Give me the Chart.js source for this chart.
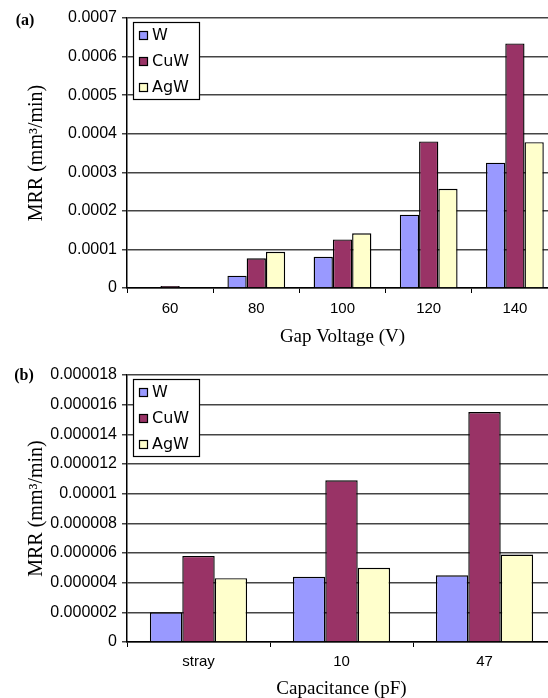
<!DOCTYPE html>
<html lang="en">
<head>
<meta charset="UTF-8" />
<title>MRR charts</title>
<script src="https://cdn.jsdelivr.net/npm/chart.js"></script>
<style>
  html, body { margin: 0; padding: 0; background: #fff; overflow: hidden; }
  canvas { display: block; }
</style>
</head>
<body>
<canvas id="chartA" width="560" height="352"></canvas>
<canvas id="chartB" width="560" height="348"></canvas>
<script>
  const series = ["W", "CuW", "AgW"];
  const colors = ["#9999ff", "#993366", "#ffffcc"];

  // (a) gap voltage
  const voltages = ["60", "80", "100", "120", "140"];
  const wVoltage = [0.000002, 0.000032, 0.000081, 0.00019, 0.000325];
  const cuwVoltage = [0.000005, 0.000077, 0.000126, 0.00038, 0.000634];
  const agwVoltage = [0.000002, 0.000094, 0.000142, 0.000257, 0.000378];
  const yTicksA = [0, 0.0001, 0.0002, 0.0003, 0.0004, 0.0005, 0.0006, 0.0007];
  const yLabelsA = ["0", "0.0001", "0.0002", "0.0003", "0.0004", "0.0005", "0.0006", "0.0007"];

  // (b) capacitance
  const capacitances = ["stray", "10", "47"];
  const wCap = [0.000002, 0.0000044, 0.0000045];
  const cuwCap = [0.0000058, 0.0000109, 0.0000155];
  const agwCap = [0.0000043, 0.000005, 0.0000059];
  const yTicksB = [0, 0.000002, 0.000004, 0.000006, 0.000008, 0.00001, 0.000012, 0.000014, 0.000016, 0.000018];
  const yLabelsB = ["0", "0.000002", "0.000004", "0.000006", "0.000008", "0.00001", "0.000012", "0.000014", "0.000016", "0.000018"];

  const sans = '"Liberation Sans", Arial, sans-serif';
  const serif = '"Liberation Serif", "Times New Roman", serif';

  // legend box drawn inside the plot, top left
  const boxLegend = {
    id: "boxLegend",
    afterDraw(chart) {
      const ctx = chart.ctx;
      const a = chart.chartArea;
      const x = a.left + 6, y = a.top + 4, w = 66, h = 77;
      ctx.save();
      ctx.fillStyle = "#fff";
      ctx.fillRect(x, y, w, h);
      ctx.strokeStyle = "#000";
      ctx.lineWidth = 1.2;
      ctx.strokeRect(x + 0.5, y + 0.5, w, h);
      ctx.font = '16px "DejaVu Sans"';
      ctx.textBaseline = "middle";
      chart.data.datasets.forEach((ds, i) => {
        const cy = Math.round(y + 13 + i * 26);
        ctx.fillStyle = ds.backgroundColor;
        ctx.fillRect(x + 6, cy - 4, 8, 8);
        ctx.strokeRect(x + 6.5, cy - 3.5, 8, 8);
        ctx.fillStyle = "#000";
        ctx.fillText(ds.label, x + 19, cy + 1);
      });
      ctx.restore();
    },
  };

  const panelLabel = {
    id: "panelLabel",
    afterDraw(chart, args, opts) {
      const ctx = chart.ctx;
      ctx.save();
      ctx.font = "bold 16px " + serif;
      ctx.fillStyle = "#000";
      ctx.textAlign = "center";
      ctx.textBaseline = "middle";
      ctx.fillText(opts.text, opts.x, opts.y);
      ctx.restore();
    },
  };

  function makeChart(id, labels, values, ticks, tickLabels, xTitle, o) {
    return new Chart(document.getElementById(id), {
      type: "bar",
      data: {
        labels: labels,
        datasets: series.map((s, i) => ({
          label: s,
          data: values[i],
          backgroundColor: colors[i],
          borderColor: "#000",
          borderWidth: 1.4,
        })),
      },
      options: {
        responsive: false,
        animation: false,
        layout: { padding: { top: o.top, right: o.right, left: 0, bottom: 0 } },
        datasets: { bar: { categoryPercentage: o.cat, barPercentage: 1 } },
        plugins: {
          legend: { display: false },
          tooltip: { enabled: false },
          panelLabel: { text: o.panel, x: o.px, y: o.py },
        },
        scales: {
          x: {
            grid: { drawOnChartArea: false, drawTicks: true, tickLength: 5, color: "#000", lineWidth: 1 },
            border: { color: "#000", width: 1.5 },
            ticks: { color: "#000", font: { family: sans, size: 15 }, padding: o.xpad, maxRotation: 0 },
            title: {
              display: true,
              text: xTitle,
              color: "#000",
              font: { family: serif, size: 19 },
              padding: { top: 0, bottom: o.tpad },
            },
            afterFit: (s) => { s.height = o.xh; },
          },
          y: {
            min: 0,
            max: ticks[ticks.length - 1],
            afterBuildTicks: (s) => { s.ticks = ticks.map((v) => ({ value: v })); },
            ticks: {
              color: "#000",
              font: { family: sans, size: 16 },
              padding: 5,
              autoSkip: false,
              callback: (v, i) => tickLabels[i],
            },
            grid: { color: "#444", lineWidth: 1.5, tickLength: 5 },
            border: { color: "#000", width: 1.5 },
            title: {
              display: true,
              text: "MRR (mm³/min)",
              color: "#000",
              font: { family: serif, size: 20 },
              padding: { top: 25, bottom: 0 },
            },
            afterFit: (s) => { s.width = 127; },
          },
        },
      },
      plugins: [boxLegend, panelLabel],
    });
  }

  makeChart("chartA", voltages, [wVoltage, cuwVoltage, agwVoltage], yTicksA, yLabelsA, "Gap Voltage (V)",
    { top: 18, right: 2, cat: 0.67, xpad: 7, tpad: 4, xh: 64, panel: "(a)", px: 25, py: 21 });

  makeChart("chartB", capacitances, [wCap, cuwCap, agwCap], yTicksB, yLabelsB, "Capacitance (pF)",
    { top: 23, right: 4, cat: 0.68, xpad: 6, tpad: 0, xh: 58, panel: "(b)", px: 24, py: 24 });
</script>
</body>
</html>
